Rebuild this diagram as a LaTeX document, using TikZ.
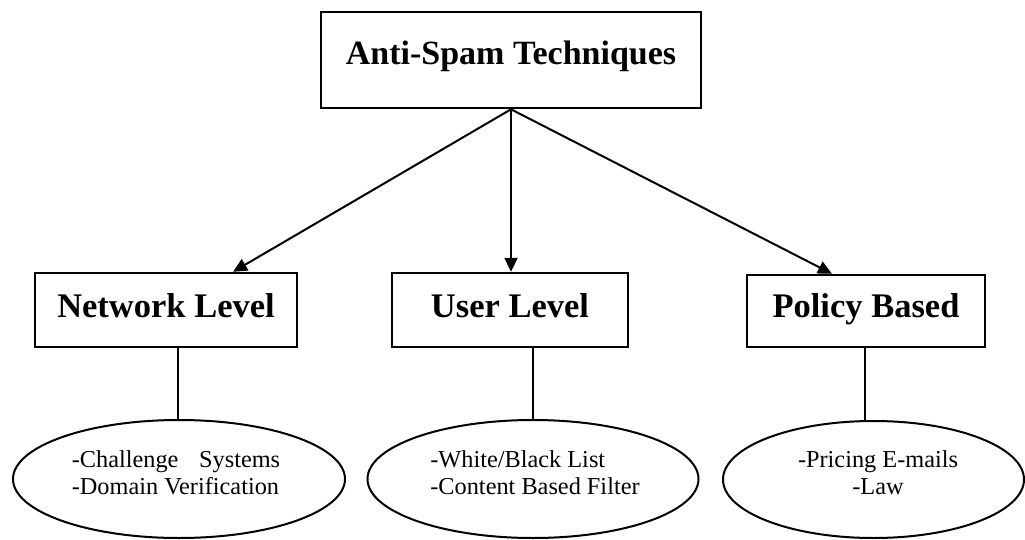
\documentclass[tikz,border=0pt]{standalone}
\usepackage{fontspec}
\setmainfont{Liberation Serif}
\usetikzlibrary{arrows.meta,shapes.geometric}
\tikzset{
  topbox/.style={draw, line width=2.6pt, rectangle, inner sep=0pt, minimum width=380pt, minimum height=96pt,
    font=\fontsize{34}{40}\selectfont\bfseries, text height=53pt, text depth=43pt},
  levelbox/.style={draw, line width=2.4pt, rectangle, inner sep=0pt, minimum height=74pt,
    font=\fontsize{34.5}{40}\selectfont\bfseries, text height=44pt, text depth=30pt},
  oval/.style={draw, line width=2pt, ellipse, inner sep=0pt, minimum height=118pt},
  ovaltext/.style={font=\fontsize{24.3}{27}\selectfont, inner sep=0pt},
  arr/.style={line width=2pt, -{Triangle[length=14pt,width=13pt]}},
  link/.style={line width=2pt}
}
\begin{document}
\begin{tikzpicture}[x=1pt,y=-1pt]
\useasboundingbox (0,0) rectangle (1025,540);
\node[topbox] (top) at (511,60) {Anti-Spam Techniques};
\node[levelbox, minimum width=262pt] (net) at (166,310) {Network Level};
\node[levelbox, minimum width=236pt] (usr) at (510,310) {User Level};
\node[levelbox, minimum width=238pt, minimum height=72pt, text height=42pt] (pol) at (866,311) {Policy Based};
\draw[arr] (top.south) -- ([xshift=67pt]net.north);
\draw[arr] (top.south) -- (usr.north -| top.south);
\draw[arr] (top.south) -- ([xshift=-34pt]pol.north);
\node[oval, minimum width=332pt] (e1) at (179,479) {};
\node[oval, minimum width=331pt] (e2) at (533,479) {};
\node[oval, minimum width=301pt, minimum height=117pt] (e3) at (873.5,479.5) {};
\draw[link] ([xshift=12pt]net.south) -- (e1.north -| 178,0);
\draw[link] ([xshift=23pt]usr.south) -- (e2.north);
\draw[link] ([xshift=-1pt]pol.south) -- (e3.north -| 865,0);
\node[ovaltext, align=left] (t1) at (176,473) {-Challenge\hspace{0.6em} Systems\\-Domain Verification};
\node[ovaltext, align=left] (t2) at (535,473) {-White/Black List\\-Content Based Filter};
\node[ovaltext, align=center] (t3) at (878,473) {-Pricing E-mails\\-Law};
\end{tikzpicture}
\end{document}
